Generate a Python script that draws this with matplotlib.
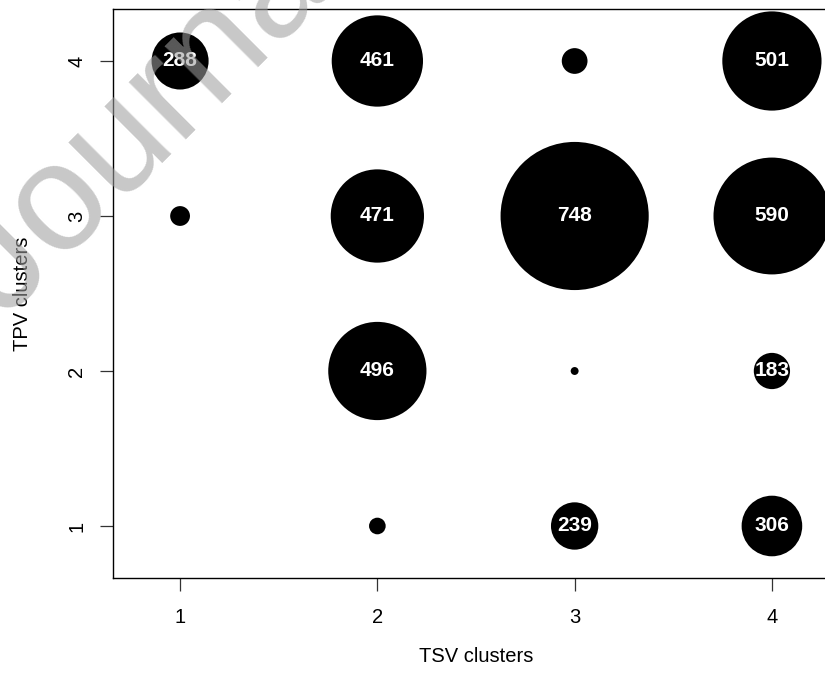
import matplotlib
matplotlib.use("Agg")
import matplotlib.pyplot as plt

plt.rcParams["font.family"] = ["Liberation Sans", "DejaVu Sans"]

# cluster cross-tab: TSV cluster (x), TPV cluster (y), number of cases
tsv = [1, 1, 2, 2, 2, 2, 3, 3, 3, 3, 4, 4, 4, 4]
tpv = [4, 3, 4, 3, 2, 1, 4, 3, 2, 1, 4, 3, 2, 1]
counts = [288, 100, 461, 471, 496, 84, 130, 748, 40, 239, 501, 590, 183, 306]
label_min = 150  # small cells are drawn but not labelled

ticks = [1, 2, 3, 4]

fig = plt.figure(figsize=(8.25, 6.81), dpi=100)
ax = fig.add_axes([0.13697, 0.15125, 0.88, 0.83554])

# radius proportional to the count (like R symbols(circles=...))
sizes = [(0.1426 * c) ** 2 for c in counts]
ax.scatter(tsv, tpv, s=sizes, c="black", linewidths=0, zorder=2)

for x, y, c in zip(tsv, tpv, counts):
    if c >= label_min:
        ax.text(x, y, str(c), color="white", fontsize=15, fontweight="bold",
                ha="center", va="center", zorder=3)

ax.set_xlim(0.66, 4.34)
ax.set_ylim(0.6645, 4.3355)
ax.set_xticks(ticks)
ax.set_yticks(ticks)
ax.tick_params(length=9.4, width=0.9, color="#333333", labelsize=14.5)
ax.tick_params(axis="x", pad=12)
ax.tick_params(axis="y", pad=10)
plt.setp(ax.get_yticklabels(), rotation=90, va="center")
for sp in ax.spines.values():
    sp.set_linewidth(1.0)

ax.set_xlabel("TSV clusters", fontsize=14.5, va="center")
ax.set_ylabel("TPV clusters", fontsize=14.5, va="center")
ax.xaxis.set_label_coords(0.5, -0.1388)
ax.yaxis.set_label_coords(-0.1253, 0.5)

# faint publisher watermark across the top left
fig.text(5 / 825, 1 - 320 / 681, "Journal Pre-proof", rotation=45,
         rotation_mode="anchor", ha="left", va="baseline", fontsize=110,
         color=(158 / 255, 158 / 255, 158 / 255), alpha=0.57, zorder=10)

fig.savefig("out.png", dpi=100)
